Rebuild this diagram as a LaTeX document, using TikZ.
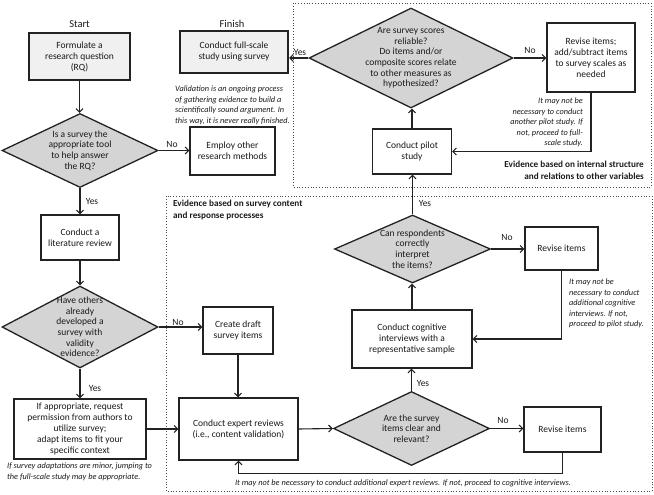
\documentclass[tikz,border=0pt]{standalone}
\usepackage{fontspec}
\setmainfont{Carlito}
\usetikzlibrary{shapes.geometric,arrows.meta}
\definecolor{ln}{HTML}{222222}
\definecolor{dfill}{HTML}{D4D4D4}
\definecolor{sfill}{HTML}{F0F0F0}
\definecolor{tx}{HTML}{1A1A1A}
\tikzset{
 box/.style={draw=ln, line width=1.3pt, rectangle, fill=white, align=center, inner sep=1pt, font=\fontsize{9.5}{11}\selectfont, text=tx},
 endbox/.style={box, fill=sfill, line width=2.2pt},
 dia/.style={draw=ln, line width=1.3pt, diamond, fill=dfill, inner sep=0pt},
 dtext/.style={align=center, inner sep=0pt, font=\fontsize{9.5}{10.6}\selectfont, text=tx},
 arr/.style={draw=ln, line width=1.1pt, -{Straight Barb[length=3.5pt,width=7pt,line width=1.1pt]}},
 lbl/.style={font=\fontsize{9.5}{11}\selectfont, inner sep=0pt, text=tx},
 note/.style={font=\fontsize{8.3}{10.6}\selectfont\itshape, inner sep=0pt, text=tx},
 sec/.style={font=\fontsize{9.2}{11.5}\selectfont\bfseries, inner sep=0pt, text=tx},
 frame/.style={draw=black!70, line width=0.8pt, dotted},
}
\begin{document}
\begin{tikzpicture}[x=1pt,y=-1pt]
\useasboundingbox (0,0) rectangle (654,495);
% frames
\draw[frame] (293,3) rectangle (651,187);
\draw[frame] (166,196) rectangle (652,491);
% headers
\node[font=\fontsize{10.5}{12}\selectfont, inner sep=0pt, text=tx] (hstart) at (79.5,24) {Start};
\node[font=\fontsize{10.5}{12}\selectfont, inner sep=0pt, text=tx] (hfinish) at (232,24) {Finish};
% boxes
\node[endbox, minimum width=101pt, minimum height=47pt] (start) at (79.5,56.5) {Formulate a\\research question\\(RQ)};
\node[endbox, minimum width=108pt, minimum height=42pt] (finish) at (234,52) {Conduct full-scale\\study using survey};
\node[box, minimum width=85pt, minimum height=48pt] (employ) at (232.5,151) {Employ other\\research methods};
\node[box, minimum width=78pt, minimum height=45pt] (lit) at (80,237.5) {Conduct a\\literature review};
\node[box, minimum width=132pt, minimum height=60pt] (perm) at (80,429) {If appropriate, request\\permission from authors to\\utilize survey;\\adapt items to fit your\\specific context};
\node[box, minimum width=70pt, minimum height=47pt] (create) at (238,330.5) {Create draft\\survey items};
\node[box, minimum width=119pt, minimum height=62pt] (expert) at (238.5,429) {Conduct expert reviews\\(i.e., content validation)};
\node[box, minimum width=77pt, minimum height=45pt] (rev2) at (562.5,429.5) {Revise items};
\node[box, minimum width=120pt, minimum height=58pt] (cog) at (412,339) {Conduct cognitive\\interviews with a\\representative sample};
\node[box, minimum width=73pt, minimum height=43pt] (rev1) at (561.5,248.5) {Revise items};
\node[box, minimum width=79pt, minimum height=45pt] (pilot) at (412,151.5) {Conduct pilot\\study};
\node[box, minimum width=88pt, minimum height=69pt] (rev0) at (591,57.5) {Revise items;\\add/subtract items\\to survey scales as\\needed};
% diamonds
\node[dia, minimum width=156pt, minimum height=74pt] (dq1) at (80,150.5) {};
\node[dtext] (dq1t) at (dq1) {Is a survey the\\appropriate tool\\to help answer\\the RQ?};
\node[dia, minimum width=156pt, minimum height=82pt] (dq2) at (80,327) {};
\node[dtext] (dq2t) at (dq2) {Have others\\already\\developed a\\survey with\\validity\\evidence?};
\node[dia, minimum width=156pt, minimum height=74pt] (dq3) at (411.5,428.5) {};
\node[dtext] (dq3t) at (dq3) {Are the survey\\items clear and\\relevant?};
\node[dia, minimum width=156pt, minimum height=68pt] (dq4) at (412.5,249) {};
\node[dtext] (dq4t) at (dq4) {Can respondents\\correctly\\interpret\\the items?};
\node[dia, minimum width=204pt, minimum height=100pt] (dq5) at (411,58) {};
\node[dtext] (dq5t) at (dq5) {Are survey scores\\reliable?\\Do items and/or\\composite scores relate\\to other measures as\\hypothesized?};
% connectors
\draw[arr] (start.south) -- (start.south |- dq1.north);
\draw[arr] (dq1.east) -- (dq1.east -| employ.west);
\draw[arr] (dq1.south) -- (lit.north);
\draw[arr] (lit.south) -- (dq2.north);
\draw[arr] (dq2.east) -- (dq2.east -| create.west);
\draw[arr] (dq2.south) -- (perm.north);
\draw[arr] (perm.east) -- (perm.east -| expert.west);
\draw[arr] (create.south) -- (create.south |- expert.north);
\draw[arr] (expert.east) -- (dq3.west);
\draw[arr] (dq3.east) -- (dq3.east -| rev2.west);
\draw[arr] (rev2.south) -- ++(0,20.5) -| (expert.south);
\draw[arr] (dq3.north) -- (dq3.north |- cog.south);
\draw[arr] (cog.north) -- (cog.north |- dq4.south);
\draw[arr] (dq4.east) -- (dq4.east -| rev1.west);
\draw[arr] (rev1.south) |- (cog.east);
\draw[arr] (dq4.north) -- (dq4.north |- pilot.south);
\draw[arr] (pilot.north) -- (pilot.north |- dq5.south);
\draw[arr] (dq5.east) -- (dq5.east -| rev0.west);
\draw[arr] (rev0.south) |- (pilot.east);
\draw[arr] (dq5.west) -- (dq5.west -| finish.east);
% yes/no labels
\node[lbl] (l1) at (172,144) {No};
\node[lbl] (l2) at (92,201) {Yes};
\node[lbl] (l3) at (178,322) {No};
\node[lbl] (l4) at (95,388) {Yes};
\node[lbl] (l5) at (503,420) {No};
\node[lbl] (l6) at (423,383) {Yes};
\node[lbl] (l7) at (507,237) {No};
\node[lbl] (l8) at (425,203) {Yes};
\node[lbl] (l9) at (530,50) {No};
\node[lbl] (l10) at (300,52) {Yes};
% notes
\node[note, anchor=north west, align=left] (n1) at (175,85.5) {Validation is an ongoing process\\of gathering evidence to build a\\scientifically sound argument. In\\this way, it is never really finished.};
\node[note, anchor=north east, align=right] (n2) at (583,97.5) {It may not be\\necessary to conduct\\another pilot study. If\\not, proceed to full-\\scale study.};
\node[note, anchor=north west, align=left] (n3) at (569,278.5) {It may not be\\necessary to conduct\\additional cognitive\\interviews. If not,\\proceed to pilot study.};
\node[note, anchor=north west, align=left] (n4) at (7,462.5) {If survey adaptations are minor, jumping to\\the full-scale study may be appropriate.};
\node[note] (n5) at (403,483) {It may not be necessary to conduct additional expert reviews. If not, proceed to cognitive interviews.};
% section labels
\node[sec, anchor=north east, align=right] (s1) at (644,161) {Evidence based on internal structure\\and relations to other variables};
\node[sec, anchor=north west, align=left] (s2) at (173,200) {Evidence based on survey content\\and response processes};
\end{tikzpicture}
\end{document}
